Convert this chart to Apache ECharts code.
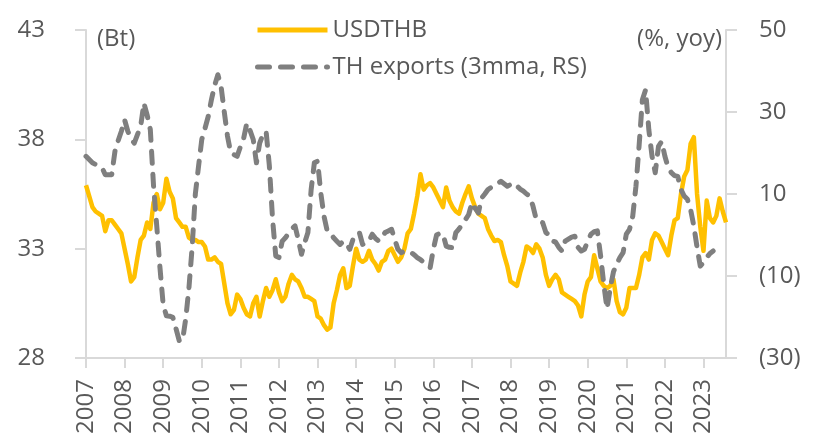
<!DOCTYPE html>
<html>
<head>
<meta charset="utf-8">
<script src="https://cdn.jsdelivr.net/npm/echarts@6/dist/echarts.min.js"></script>
<style>
  html, body { margin: 0; padding: 0; background: #fff; }
  #main { width: 821px; height: 439px; }
</style>
</head>
<body>
<div id="main"></div>
<script>
// 月度数据：2007年1月 - 2023年8月
var years = ['2007', '2008', '2009', '2010', '2011', '2012', '2013', '2014', '2015',
             '2016', '2017', '2018', '2019', '2020', '2021', '2022', '2023'];
var monthsInLastYear = 8;

// USDTHB (Bt, 左轴)
var usdthb = [
    35.9, 35.4, 34.9, 34.7, 34.6, 34.5, 33.8, 34.3, 34.3, 34.1, 33.9, 33.7,
    33.0, 32.3, 31.5, 31.7, 32.6, 33.4, 33.6, 34.2, 33.9, 35.1, 35.5, 34.8,
    35.1, 36.2, 35.6, 35.3, 34.4, 34.2, 34.0, 34.0, 33.5, 33.4, 33.4, 33.3,
    33.3, 33.1, 32.5, 32.5, 32.6, 32.4, 32.3, 31.4, 30.5, 30.0, 30.2, 30.9,
    30.7, 30.3, 30.0, 29.9, 30.5, 30.8, 29.9, 30.6, 31.2, 30.8, 31.1, 31.6,
    31.0, 30.6, 30.8, 31.4, 31.8, 31.6, 31.5, 31.2, 30.8, 30.8, 30.7, 30.6,
    29.9, 29.8, 29.5, 29.3, 29.4, 30.5, 31.1, 31.8, 32.1, 31.2, 31.3, 32.2,
    33.0, 32.5, 32.4, 32.5, 32.9, 32.5, 32.3, 32.0, 32.4, 32.5, 32.9, 33.0,
    32.7, 32.4, 32.6, 33.0, 33.7, 33.9, 34.6, 35.4, 36.4, 35.7, 35.9, 36.0,
    35.8, 35.5, 35.2, 34.9, 35.8, 35.2, 34.9, 34.7, 34.6, 35.1, 35.5, 35.85,
    35.3, 34.9, 34.6, 34.5, 34.4, 33.9, 33.6, 33.35, 33.4, 33.3, 32.7, 32.2,
    31.5, 31.4, 31.3, 31.9, 32.4, 33.1, 33.0, 32.8, 33.2, 33.0, 32.6, 31.8,
    31.3, 31.6, 31.8, 31.6, 31.0, 30.9, 30.8, 30.7, 30.6, 30.4, 29.9, 30.9,
    31.5, 31.7, 32.7, 32.1, 31.5, 31.3, 31.2, 31.3, 31.6, 30.6, 30.1, 30.0,
    30.3, 31.2, 31.2, 31.2, 31.8, 32.6, 32.8, 32.5, 33.4, 33.7, 33.6, 33.3,
    33.0, 32.7, 33.6, 34.3, 34.4, 35.5, 36.3, 36.6, 37.8, 38.1, 35.5, 34.0,
    32.9, 35.2, 34.4, 34.2, 34.5, 35.3, 34.7, 34.2
];

// TH exports (3mma, % yoy, 右轴)
var exportsYoy = [
    19.2, 18.4, 17.6, 17.2, 16.8, 16.4, 14.7, 14.7, 14.7, 20.4, 23.0, 25.3,
    28.1, 25.3, 23.5, 22.4, 24.5, 26.5, 32.2, 29.3, 25.7, 12.0, 2.2, -8.0,
    -17.0, -19.7, -19.8, -20.1, -22.9, -25.8, -25.8, -20.5, -13.0, -3.0, 10.0, 16.8,
    23.3, 26.0, 28.9, 33.0, 36.5, 39.1, 36.2, 30.0, 24.1, 20.0, 19.6, 19.2,
    21.5, 23.5, 27.3, 25.5, 23.3, 17.6, 22.4, 24.5, 25.3, 17.0, 4.0, -5.1,
    -5.5, -1.5, -0.7, 0.5, 1.5, 2.2, -1.1, -4.7, -1.9, 0.6, 11.0, 17.6,
    18.0, 10.3, 4.6, 1.0, 0.6, -0.7, -1.5, -2.3, -1.5, -2.0, -3.5, -1.1,
    0.0, 0.6, -2.3, -2.0, -1.5, 0.2, -0.8, -1.5, -0.5, 0.6, 1.0, 1.4,
    -1.1, -3.5, -4.3, -4.0, -3.9, -4.2, -4.8, -5.5, -6.0, -6.7, -7.2, -8.0,
    -3.5, 0.0, 0.4, 0.2, -2.7, -3.0, -3.1, 0.6, 1.5, 2.6, 3.8, 5.0,
    7.9, 6.5, 5.4, 9.0, 10.0, 11.1, 11.6, 12.3, 12.6, 13.1, 12.5, 11.9,
    12.3, 12.7, 12.0, 11.2, 10.7, 10.0, 9.5, 7.0, 3.8, 3.4, 3.0, 0.6,
    0.0, -1.5, -1.7, -3.0, -3.9, -1.5, -1.0, -0.5, -0.3, -3.0, -3.9, -3.5,
    -1.5, 0.2, 0.8, 1.0, -5.0, -12.0, -18.0, -13.0, -9.0, -7.1, -5.5, -4.3,
    0.2, 1.4, 4.6, 11.9, 22.0, 33.0, 35.4, 25.7, 19.2, 15.2, 21.6, 22.8,
    19.2, 16.5, 15.2, 14.5, 14.3, 11.1, 9.5, 8.7, 6.2, 2.2, -3.0, -7.6,
    -6.7, -5.5, -4.5, -3.9, null, null, null, null
];

// 类目轴：每月一个
var months = [];
years.forEach(function(y, i) {
    var n = (i === years.length - 1) ? monthsInLastYear : 12;
    for (var m = 1; m <= n; m++) {
        months.push(y + '-' + (m < 10 ? '0' + m : m));
    }
});

var textColor = '#595959';
var axisColor = '#d9d9d9';
var fontFamily = '"Open Sans", sans-serif';

var myChart = echarts.init(document.getElementById('main'));

var isJan = function(index) { return index % 12 === 0; };

myChart.setOption({
    animation: false,
    textStyle: { fontFamily: fontFamily },
    grid: { left: 86, right: 95, top: 30, bottom: 81 },
    legend: {
        orient: 'vertical',
        left: 255,
        top: 16,
        padding: 0,
        itemWidth: 70,
        itemHeight: 14,
        itemGap: 9,
        textStyle: { fontSize: 24, color: textColor, fontFamily: fontFamily, lineHeight: 28 },
        data: [
            { name: 'USDTHB', lineStyle: { width: 5 }, itemStyle: { opacity: 0 } },
            { name: 'TH exports (3mma, RS)', lineStyle: { width: 5 }, itemStyle: { opacity: 0 } }
        ]
    },
    graphic: [
        { type: 'text', left: 97, top: 27, style: { text: '(Bt)', fontSize: 24, fill: textColor, fontFamily: fontFamily } },
        { type: 'text', right: 99, top: 27, style: { text: '(%, yoy)', fontSize: 24, fill: textColor, fontFamily: fontFamily } }
    ],
    xAxis: {
        type: 'category',
        data: months,
        boundaryGap: false,
        axisLine: { onZero: false, lineStyle: { color: axisColor, width: 2 } },
        axisTick: { interval: isJan, length: 10, lineStyle: { color: axisColor, width: 2 } },
        axisLabel: {
            interval: isJan,
            rotate: 90,
            margin: 21,
            fontSize: 24,
            color: textColor,
            formatter: function(v) { return v.slice(0, 4); }
        },
        splitLine: { show: false }
    },
    yAxis: [
        {
            type: 'value',
            min: 28,
            max: 43,
            interval: 5,
            axisLine: { show: true, lineStyle: { color: axisColor, width: 2 } },
            axisTick: { show: true, length: 11, lineStyle: { color: axisColor, width: 2 } },
            axisLabel: { margin: 41, fontSize: 24, color: textColor },
            splitLine: { show: false }
        },
        {
            type: 'value',
            min: -30,
            max: 50,
            interval: 20,
            axisLine: { show: true, lineStyle: { color: axisColor, width: 2 } },
            axisTick: { show: true, length: 11, lineStyle: { color: axisColor, width: 2 } },
            axisLabel: {
                margin: 33,
                fontSize: 24,
                color: textColor,
                formatter: function(v) { return v < 0 ? '(' + (-v) + ')' : String(v); }
            },
            splitLine: { show: false }
        }
    ],
    series: [
        {
            name: 'USDTHB',
            type: 'line',
            yAxisIndex: 0,
            data: usdthb,
            symbol: 'none',
            lineStyle: { color: '#FFC000', width: 4.5, join: 'round' },
            itemStyle: { color: '#FFC000' }
        },
        {
            name: 'TH exports (3mma, RS)',
            type: 'line',
            yAxisIndex: 1,
            data: exportsYoy,
            symbol: 'none',
            connectNulls: false,
            lineStyle: { color: '#7F7F7F', width: 5, type: [12, 11], cap: 'round', join: 'round' },
            itemStyle: { color: '#7F7F7F' }
        }
    ]
});
</script>
</body>
</html>
